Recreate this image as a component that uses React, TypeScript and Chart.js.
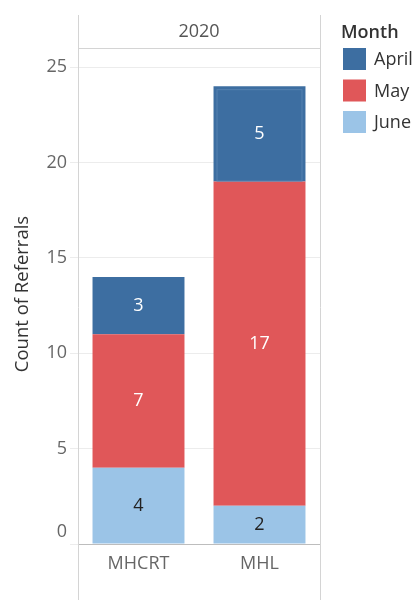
import React, { useEffect, useRef } from "react";
import { Chart, registerables } from "chart.js";

Chart.register(...registerables);

const categories = ["MHCRT", "MHL"];
const aprilValues = [3, 5];
const mayValues = [7, 17];
const juneValues = [4, 2];
const yTicks = [0, 5, 10, 15, 20, 25];
const headerLabel = "2020";
const legendTitle = "Month";
const seriesNames = ["April", "May", "June"];
const yTitle = "Count of Referrals";

const COLORS = { April: "#3d6ea1", May: "#e05759", June: "#9bc4e7" };
const FONT = "'Open Sans', 'Noto Sans', sans-serif";

const decorPlugin = {
  id: "decor",
  beforeDatasetsDraw(chart: any) {
    const { ctx, chartArea } = chart;
    const { left, right, top, bottom } = chartArea;
    ctx.save();
    ctx.strokeStyle = "#d4d4d4";
    ctx.lineWidth = 1;
    ctx.beginPath();
    ctx.moveTo(left + 0.5, 15);
    ctx.lineTo(left + 0.5, 600);
    ctx.moveTo(right + 0.5, 15);
    ctx.lineTo(right + 0.5, 600);
    ctx.moveTo(left, top + 0.5);
    ctx.lineTo(right, top + 0.5);
    ctx.stroke();
    ctx.fillStyle = "#555";
    ctx.font = `18px ${FONT}`;
    ctx.textAlign = "center";
    ctx.textBaseline = "middle";
    ctx.fillText(headerLabel, (left + right) / 2, 32);
    // zero tick label, raised as in the reference
    ctx.fillStyle = "#666";
    ctx.textAlign = "right";
    ctx.fillText(String(yTicks[0]), 67, bottom - 12);
    // y title
    ctx.save();
    ctx.translate(23, 294);
    ctx.rotate(-Math.PI / 2);
    ctx.textAlign = "center";
    ctx.fillStyle = "#333";
    ctx.font = `18.5px ${FONT}`;
    ctx.fillText(yTitle, 0, 0);
    ctx.restore();
    // legend
    ctx.textAlign = "left";
    ctx.fillStyle = "#333";
    ctx.font = `600 18px ${FONT}`;
    ctx.fillText(legendTitle, 341, 33);
    ctx.font = `18px ${FONT}`;
    seriesNames.forEach((name, i) => {
      const y = 48 + i * 31.5;
      ctx.fillStyle = (COLORS as any)[name];
      ctx.fillRect(343, y, 23, 22);
      ctx.fillStyle = "#333";
      ctx.fillText(name, 374, y + 12);
    });
    ctx.restore();
  },
  afterDatasetsDraw(chart: any) {
    const { ctx } = chart;
    ctx.save();
    // highlight outline on MHL April bar
    const aprilIdx = chart.data.datasets.findIndex((d: any) => d.label === "April");
    const hb: any = chart.getDatasetMeta(aprilIdx).data[1];
    if (hb) {
      ctx.strokeStyle = "#5582b1";
      ctx.lineWidth = 1;
      const l = hb.x - hb.width / 2 + 3;
      const r = hb.x + hb.width / 2 - 3;
      ctx.strokeRect(l + 0.5, hb.y + 3.5, r - l - 1, hb.base - hb.y - 4);
    }
    ctx.font = `18px ${FONT}`;
    ctx.textAlign = "center";
    ctx.textBaseline = "middle";
    chart.data.datasets.forEach((ds: any, di: number) => {
      const meta = chart.getDatasetMeta(di);
      meta.data.forEach((bar: any, i: number) => {
        const v = ds.data[i];
        const yc = (bar.y + bar.base) / 2;
        ctx.fillStyle = ds.label === "June" ? "#222" : "#fff";
        ctx.fillText(String(v), bar.x, yc);
      });
    });
    ctx.restore();
  },
};

export default function App() {
  const ref = useRef<HTMLCanvasElement>(null);
  useEffect(() => {
    if (!ref.current) return;
    const chart = new Chart(ref.current, {
      type: "bar",
      data: {
        labels: categories,
        datasets: [
          { label: "June", data: juneValues, backgroundColor: COLORS.June },
          { label: "May", data: mayValues, backgroundColor: COLORS.May },
          { label: "April", data: aprilValues, backgroundColor: COLORS.April },
        ],
      },
      options: {
        animation: false,
        responsive: false,
        maintainAspectRatio: false,
        layout: { padding: { top: 48, right: 95, bottom: 0, left: 0 } },
        datasets: { bar: { categoryPercentage: 1, barPercentage: 0.76 } },
        plugins: { legend: { display: false }, tooltip: { enabled: false } },
        scales: {
          x: {
            stacked: true,
            afterFit: (s: any) => { s.height = 56; },
            grid: { display: false, drawTicks: false },
            border: { display: true, color: "#bdbdbd" },
            ticks: { color: "#666", font: { family: FONT, size: 18 }, padding: 9 },
          },
          y: {
            stacked: true,
            min: 0,
            max: 26,
            afterFit: (s: any) => { s.width = 78; },
            afterBuildTicks: (s: any) => { s.ticks = yTicks.map((v) => ({ value: v })); },
            grid: {
              color: (c: any) => (c.tick && c.tick.value === 0 ? "#bdbdbd" : "#ececec"),
              tickLength: 8,
              tickColor: "#ececec",
            },
            border: { display: false },
            ticks: {
              color: "#666",
              font: { family: FONT, size: 18 },
              padding: 3,
              callback: (v: any) => (v === 0 ? "" : String(v)),
            },
          },
        },
      },
      plugins: [decorPlugin],
    });
    return () => chart.destroy();
  }, []);
  return (
    <canvas
      ref={ref}
      width={415}
      height={600}
      style={{ position: "absolute", left: 0, top: 0, width: 415, height: 600 }}
    />
  );
}
